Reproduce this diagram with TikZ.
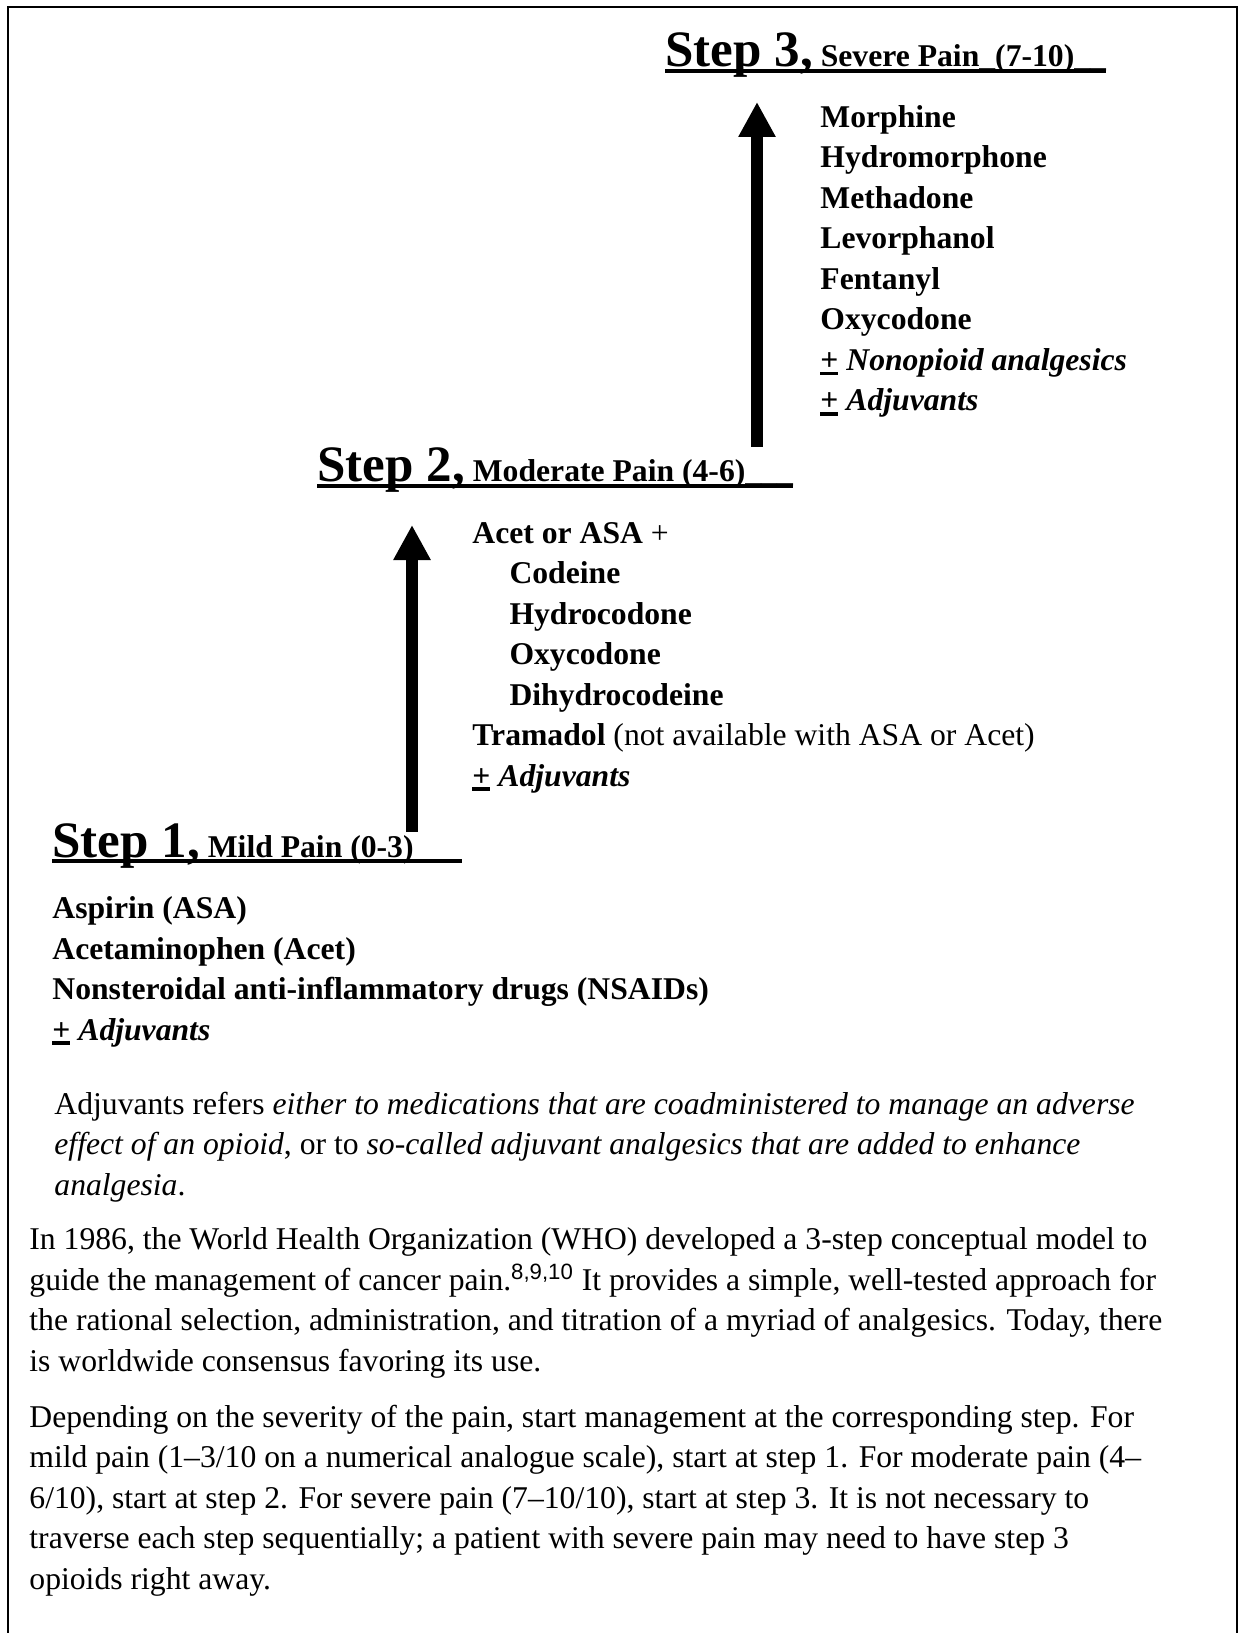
\documentclass[tikz,border=0pt]{standalone}
\usepackage{fontspec}
\setmainfont{Liberation Serif}
\setsansfont{Liberation Sans}
\usetikzlibrary{arrows.meta}
\tikzset{every node/.style={inner sep=0pt, anchor=base west, align=left}}
\tikzset{stepup/.style={line width=5.3pt, -{Triangle[length=16.8pt,width=16.8pt]}},
  rung/.style={line width=2pt},
  drugs/.style={font=\fontsize{15.2pt}{19.44pt}\selectfont\bfseries},
  prose/.style={font=\fontsize{15.2pt}{19.44pt}\selectfont}}
\newcommand{\stepno}[1]{{\fontsize{24.5pt}{28pt}\selectfont #1}}
\newcommand{\ulplus}{\leavevmode\rlap{\rule[-2.4pt]{0.57em}{1.8pt}}+}
\begin{document}
\begin{tikzpicture}[x=0.48pt,y=-0.48pt]
  \useasboundingbox (0,0) rectangle (1240,1633);
  \draw[line width=1.2pt] (8,1650) -- (8,7) -- (1237,7) -- (1237,1650);

  \node[drugs] (step3) at (665,67) {\stepno{Step 3,} Severe Pain\_(7-10)\_\_};
  \draw[rung] ([yshift=-1.9pt]step3.base west) -- ([yshift=-1.9pt]step3.base east);
  \node[drugs] (drugs3) at (820,411) {Morphine\\ Hydromorphone\\ Methadone\\ Levorphanol\\ Fentanyl\\ Oxycodone\\
    \ulplus\ \textit{Nonopioid analgesics}\\ \ulplus\ \textit{Adjuvants}};

  \node[drugs] (step2) at (317,482) {\stepno{Step 2,} Moderate Pain (4-6)\_\_\_};
  \draw[rung] ([yshift=-1.9pt]step2.base west) -- ([yshift=-1.9pt]step2.base east);
  \node[drugs] (drugs2) at (472,786) {Acet or ASA \textmd{+}\\ \hspace*{17.8pt}Codeine\\ \hspace*{17.8pt}Hydrocodone\\
    \hspace*{17.8pt}Oxycodone\\ \hspace*{17.8pt}Dihydrocodeine\\
    Tramadol \textmd{(not available with ASA or Acet)}\\ \ulplus\ \textit{Adjuvants}};

  \node[drugs] (step1) at (52,857) {\stepno{Step 1,} Mild Pain (0-3)\_\_\_};
  \draw[rung] ([yshift=-1.9pt]step1.base west) -- ([yshift=-1.9pt]step1.base east);
  \node[drugs] (drugs1) at (52,1040) {Aspirin (ASA)\\ Acetaminophen (Acet)\\
    Nonsteroidal anti-inflammatory drugs (NSAIDs)\\ \ulplus\ \textit{Adjuvants}};

  \coordinate (foot2) at (412,832);
  \coordinate (top2) at (412,525);
  \coordinate (foot3) at (757,447);
  \coordinate (top3) at (757,102);
  \draw[stepup] (foot2) -- (top2);
  \draw[stepup] (foot3) -- (top3);

  \node[prose] (note) at (54,1195) {Adjuvants refers \textit{either to medications that are coadministered to manage an adverse}\\
    \textit{effect of an opioid}, or to \textit{so-called adjuvant analgesics that are added to enhance}\\
    \textit{analgesia}.};
  \node[prose] (para1) at (29,1371) {In 1986, the World Health Organization (WHO) developed a 3-step conceptual model to\\
    guide the management of cancer pain.\textsuperscript{\sffamily 8,9,10} It provides a simple, well-tested approach for\\
    the rational selection, administration, and titration of a myriad of analgesics. Today, there\\
    is worldwide consensus favoring its use.};
  \node[prose] (para2) at (29,1589) {Depending on the severity of the pain, start management at the corresponding step. For\\
    mild pain (1–3/10 on a numerical analogue scale), start at step 1. For moderate pain (4–\\
    6/10), start at step 2. For severe pain (7–10/10), start at step 3. It is not necessary to\\
    traverse each step sequentially; a patient with severe pain may need to have step 3\\
    opioids right away.};
\end{tikzpicture}
\end{document}
